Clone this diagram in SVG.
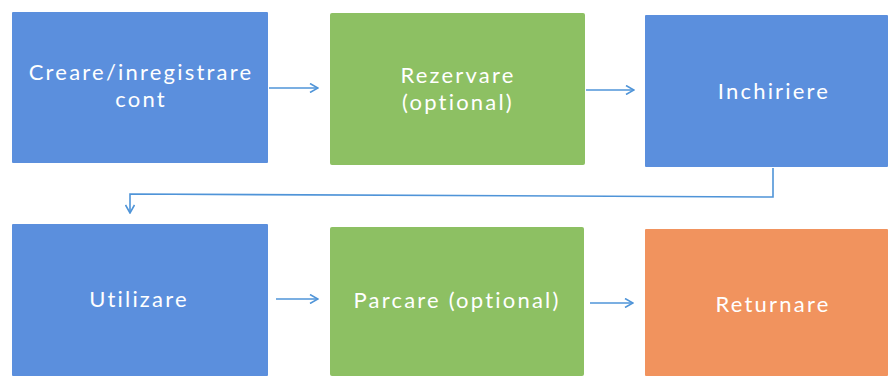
<svg xmlns="http://www.w3.org/2000/svg" width="888" height="376" viewBox="0 0 888 376">
  <defs>
    <style>
      .blue { fill: #5b8fdd; }
      .green { fill: #8dc063; }
      .orange { fill: #f1935e; }
      .lbl { font-family: Lato, "Open Sans", "Liberation Sans", sans-serif; font-size: 22px; letter-spacing: 2.2px; fill: #ffffff; text-anchor: middle; }
      .conn { fill: none; stroke: #4f94d8; stroke-width: 1.6; }
    </style>
    <marker id="arrow" viewBox="0 0 10 10" refX="9" refY="5" markerWidth="10" markerHeight="10" markerUnits="userSpaceOnUse" orient="auto">
      <path d="M1,0.5 L9,5 L1,9.5" fill="none" stroke="#4f94d8" stroke-width="1.6"/>
    </marker>
  </defs>
  <rect width="888" height="376" fill="#ffffff"/>

  <g id="connectors">
    <line class="conn" x1="269" y1="88" x2="318" y2="88" marker-end="url(#arrow)"/>
    <line class="conn" x1="586" y1="90" x2="634" y2="90" marker-end="url(#arrow)"/>
    <polyline class="conn" points="773,168 773,197 130,194 130,213" marker-end="url(#arrow)"/>
    <line class="conn" x1="276" y1="299" x2="318" y2="299" marker-end="url(#arrow)"/>
    <line class="conn" x1="590" y1="303" x2="633" y2="303" marker-end="url(#arrow)"/>
  </g>

  <g id="creare-cont">
    <rect class="blue" x="12" y="12" width="256" height="151" rx="1"/>
    <text class="lbl" x="141" y="80">Creare/inregistrare</text>
    <text class="lbl" x="141" y="107">cont</text>
  </g>
  <g id="rezervare">
    <rect class="green" x="330" y="13" width="255" height="152" rx="2"/>
    <text class="lbl" x="458" y="83">Rezervare</text>
    <text class="lbl" x="458" y="110">(optional)</text>
  </g>
  <g id="inchiriere">
    <rect class="blue" x="645" y="15" width="243" height="152" rx="1"/>
    <text class="lbl" x="774" y="99">Inchiriere</text>
  </g>
  <g id="utilizare">
    <rect class="blue" x="12" y="224" width="256" height="152" rx="1"/>
    <text class="lbl" x="139" y="307">Utilizare</text>
  </g>
  <g id="parcare">
    <rect class="green" x="330" y="227" width="254" height="149" rx="2"/>
    <text class="lbl" x="457" y="308">Parcare (optional)</text>
  </g>
  <g id="returnare">
    <rect class="orange" x="645" y="229" width="243" height="147" rx="1"/>
    <text class="lbl" x="773" y="312">Returnare</text>
  </g>
</svg>
